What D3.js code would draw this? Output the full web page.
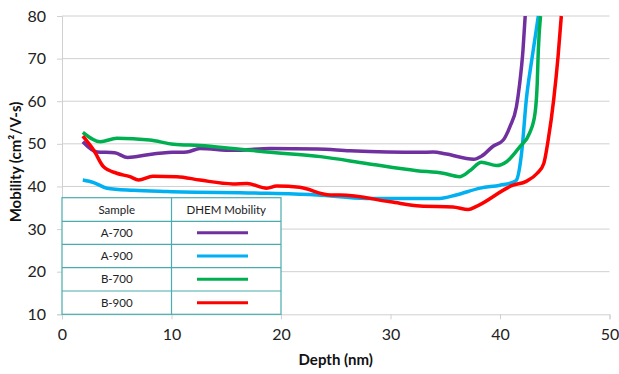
<!DOCTYPE html>
<html>
<head>
<meta charset="utf-8">
<script src="https://cdn.jsdelivr.net/npm/d3@7.9.0/dist/d3.min.js"></script>
<style>
  body { margin: 0; background: #fff; }
  svg { font-family: Lato, "Open Sans", sans-serif; }
</style>
</head>
<body>
<svg id="chart" width="619" height="374"></svg>
<script>
// depth (nm) and mobility (cm2/V-s)
const a700Depth = [1.9, 3.2, 4.8, 6.0, 8.0, 10.1, 11.4, 12.6, 15.6, 19.0, 23.3, 26.3, 32.7, 33.9, 35.1, 37.6, 38.3, 39.4, 40.3, 40.9, 41.5, 41.8, 42.1, 42.3];
const a700Mob   = [50.5, 48.1, 47.9, 46.8, 47.5, 48.0, 48.1, 48.9, 48.5, 48.9, 48.8, 48.4, 48.0, 48.1, 47.6, 46.4, 47.1, 49.5, 50.9, 54.0, 58.7, 64.2, 72.0, 80.0];

const a900Depth = [1.9, 2.9, 4.1, 6.5, 9.6, 18.7, 23.3, 27.8, 34.5, 36.0, 38.2, 40.0, 41.2, 41.5, 42.0, 42.4, 42.9, 43.5];
const a900Mob   = [41.5, 40.9, 39.6, 39.1, 38.8, 38.4, 38.0, 37.2, 37.2, 38.0, 39.6, 40.3, 41.0, 41.5, 48.5, 60.3, 69.7, 80.0];

const b700Depth = [1.9, 3.5, 5.0, 8.0, 10.2, 12.6, 15.6, 18.7, 23.6, 27.8, 32.4, 34.8, 36.3, 37.3, 38.3, 39.7, 40.6, 41.8, 42.7, 43.2, 43.4, 43.5, 43.7];
const b700Mob   = [52.7, 50.5, 51.3, 50.9, 49.9, 49.6, 48.9, 48.1, 47.0, 45.4, 43.7, 43.1, 42.3, 43.8, 45.7, 44.9, 45.8, 49.3, 52.5, 57.2, 64.2, 72.0, 80.0];

const b900Depth = [1.9, 2.9, 3.8, 5.0, 6.2, 7.0, 8.3, 10.5, 12.6, 15.6, 16.9, 18.7, 19.6, 21.7, 24.5, 25.4, 30.0, 32.7, 35.7, 37.1, 37.9, 41.2, 42.4, 43.4, 44.0, 44.4, 44.9, 45.3, 45.6];
const b900Mob   = [51.8, 48.5, 44.6, 43.1, 42.3, 41.5, 42.4, 42.3, 41.5, 40.6, 40.7, 39.6, 40.1, 39.8, 38.0, 38.0, 36.4, 35.4, 35.2, 34.6, 35.4, 40.3, 41.2, 43.1, 45.4, 50.9, 60.3, 70.4, 80.0];

const sampleNames = ["A-700", "A-900", "B-700", "B-900"];
const sampleColors = ["#7030a0", "#00b0f0", "#00b050", "#ff0000"];
const xTicks = [0, 10, 20, 30, 40, 50];
const yTicks = [10, 20, 30, 40, 50, 60, 70, 80];

const series = [
  { name: "A-700", depth: a700Depth, mob: a700Mob },
  { name: "A-900", depth: a900Depth, mob: a900Mob },
  { name: "B-700", depth: b700Depth, mob: b700Mob },
  { name: "B-900", depth: b900Depth, mob: b900Mob }
];

const svg = d3.select("#chart");
const x = d3.scaleLinear().domain([0, 50]).range([62, 609.5]);
const y = d3.scaleLinear().domain([10, 80]).range([314.3, 16]);

// gridlines
svg.append("g")
  .selectAll("line")
  .data(yTicks.filter(t => t > 10))
  .join("line")
  .attr("x1", x(0)).attr("x2", x(50))
  .attr("y1", d => y(d)).attr("y2", d => y(d))
  .attr("stroke", "#d0d0d0").attr("stroke-width", 1);

// axes
const xAxis = svg.append("g")
  .attr("transform", `translate(0,${y(10)})`)
  .call(d3.axisBottom(x).tickValues(xTicks).tickSize(5).tickPadding(9));
const yAxis = svg.append("g")
  .attr("transform", `translate(${x(0)},0)`)
  .call(d3.axisLeft(y).tickValues(yTicks).tickSize(5).tickPadding(11));

[xAxis, yAxis].forEach(ax => {
  ax.select(".domain").attr("stroke", "#d0d0d0");
  ax.selectAll(".tick line").attr("stroke", "#d0d0d0");
  ax.selectAll(".tick text")
    .attr("fill", "#222")
    .style("font-size", "16px")
    .style("font-family", "Lato, sans-serif");
});

svg.append("clipPath").attr("id", "plotclip")
  .append("rect").attr("x", x(0)).attr("y", y(80) - 1)
  .attr("width", x(50) - x(0)).attr("height", y(10) - y(80) + 1);

const line = d3.line()
  .x(d => x(d[0]))
  .y(d => y(d[1]))
  .curve(d3.curveMonotoneX);

svg.append("g")
  .attr("clip-path", "url(#plotclip)")
  .selectAll("path")
  .data(series)
  .join("path")
  .attr("d", s => line(s.depth.map((d, i) => [d, s.mob[i]])))
  .attr("fill", "none")
  .attr("stroke", (s, i) => sampleColors[i])
  .attr("stroke-width", 3.5)
  .attr("stroke-linejoin", "round");

// legend table
const tLeft = x(0), tMid = x(10), tRight = x(20);
const rowEdges = [197.7, 221.3, 244.3, 267.7, 291, y(10)];
const teal = "#4aacac";
const table = svg.append("g");

table.append("rect")
  .attr("x", tLeft).attr("y", rowEdges[0])
  .attr("width", tRight - tLeft).attr("height", rowEdges[5] - rowEdges[0])
  .attr("fill", "#fff").attr("stroke", teal).attr("stroke-width", 1.2);

table.selectAll("line.row")
  .data(rowEdges.slice(1, 5))
  .join("line")
  .attr("x1", tLeft).attr("x2", tRight)
  .attr("y1", d => d).attr("y2", d => d)
  .attr("stroke", teal).attr("stroke-width", 1.2);

table.append("line")
  .attr("x1", tMid).attr("x2", tMid)
  .attr("y1", rowEdges[0]).attr("y2", rowEdges[5])
  .attr("stroke", teal).attr("stroke-width", 1.2);

const headers = ["Sample", "DHEM Mobility"];
table.selectAll("text.head")
  .data(headers)
  .join("text")
  .attr("x", (d, i) => i === 0 ? (tLeft + tMid) / 2 : (tMid + tRight) / 2)
  .attr("y", (rowEdges[0] + rowEdges[1]) / 2 + 4)
  .attr("text-anchor", "middle")
  .attr("fill", "#222")
  .style("font-size", "11.5px")
  .text(d => d);

sampleNames.forEach((name, i) => {
  const cy = (rowEdges[i + 1] + rowEdges[i + 2]) / 2;
  table.append("text")
    .attr("x", (tLeft + tMid) / 2).attr("y", cy + 4)
    .attr("text-anchor", "middle")
    .attr("fill", "#222")
    .style("font-size", "11.5px")
    .text(name);
  table.append("line")
    .attr("x1", 197).attr("x2", 248)
    .attr("y1", cy).attr("y2", cy)
    .attr("stroke", sampleColors[i]).attr("stroke-width", 3);
});

// axis titles
svg.append("text")
  .attr("x", (x(0) + x(50)) / 2).attr("y", 365)
  .attr("text-anchor", "middle")
  .style("font-size", "15px").style("font-weight", "bold")
  .attr("fill", "#111")
  .text("Depth (nm)");

svg.append("text")
  .attr("transform", `translate(21,162) rotate(-90)`)
  .attr("text-anchor", "middle")
  .style("font-size", "15px").style("font-weight", "bold")
  .attr("fill", "#111")
  .text("Mobility (cm²/V-s)");
</script>
</body>
</html>
